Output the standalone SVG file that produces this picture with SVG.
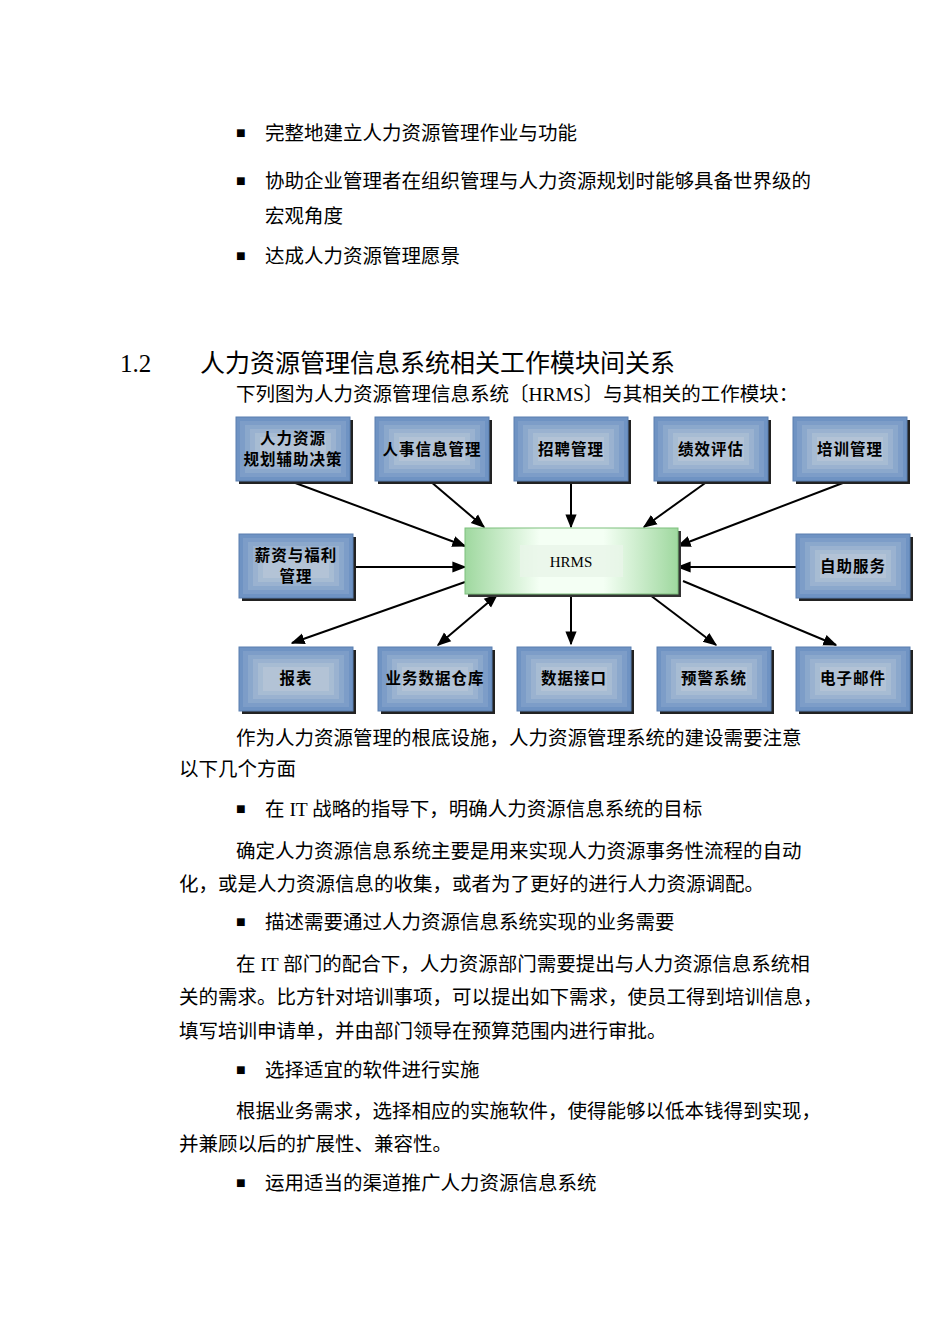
<svg xmlns="http://www.w3.org/2000/svg" width="950" height="1344" viewBox="0 0 950 1344">
<style>
.t{font-family:"Liberation Serif","Noto Sans CJK SC",serif;font-size:19.5px;fill:#000}
.h{font-family:"Liberation Serif","Noto Sans CJK SC",serif;font-size:25px;fill:#000}
.b{font-family:"Noto Sans CJK SC",sans-serif;font-size:15.5px;font-weight:bold;letter-spacing:1px;fill:#000;text-anchor:middle}
.c{stroke:#000;stroke-width:2;fill:none}
</style>
<defs>
<marker id="a" viewBox="0 0 10 10" refX="9" refY="5" markerWidth="14" markerHeight="14" orient="auto-start-reverse" markerUnits="userSpaceOnUse"><path d="M0,1 L10,5 L0,9 z"/></marker>
<g id="box">
<rect x="3" y="3" width="114" height="64" fill="#222"/>
<rect x="0" y="0" width="114" height="64" fill="#6f93c3"/>
<rect x="4" y="4" width="106" height="56" fill="#7d9dc8"/>
<rect x="9" y="8" width="96" height="48" fill="#8ba8cc"/>
<rect x="14" y="12" width="86" height="40" fill="#9ab2d0"/>
<rect x="19" y="16" width="76" height="32" fill="#a7bcd3"/>
<rect x="24" y="20" width="66" height="24" fill="#b3c3d6"/>
<rect x="0" y="0" width="114" height="64" fill="none" stroke="#5a7fb0" stroke-width="1"/>
</g>
<linearGradient id="gh" x1="0" x2="1"><stop offset="0" stop-color="#9fd89f"/><stop offset="0.35" stop-color="#f4fff4"/><stop offset="0.65" stop-color="#f4fff4"/><stop offset="1" stop-color="#9fd89f"/></linearGradient>
</defs>
<g class="t">
<text x="236" y="138" font-size="16">■</text><text x="265" y="140">完整地建立人力资源管理作业与功能</text>
<text x="236" y="186" font-size="16">■</text><text x="265" y="188">协助企业管理者在组织管理与人力资源规划时能够具备世界级的</text>
<text x="265" y="223">宏观角度</text>
<text x="236" y="261" font-size="16">■</text><text x="265" y="263">达成人力资源管理愿景</text>
</g>
<text class="h" x="120" y="372">1.2</text><text class="h" x="200" y="372">人力资源管理信息系统相关工作模块间关系</text>
<text class="t" x="236" y="401">下列图为人力资源管理信息系统〔HRMS〕与其相关的工作模块：</text>
<g id="connectors" marker-end="url(#a)">
<line class="c" x1="290" y1="481" x2="465" y2="546"/>
<line class="c" x1="430" y1="481" x2="484" y2="527"/>
<line class="c" x1="571" y1="481" x2="571" y2="527"/>
<line class="c" x1="708" y1="481" x2="644" y2="527"/>
<line class="c" x1="848" y1="481" x2="678" y2="546"/>
<line class="c" x1="353" y1="567" x2="465" y2="567"/>
<line class="c" x1="796" y1="567" x2="678" y2="567"/>
<line class="c" x1="465" y1="582" x2="292" y2="643"/>
<line class="c" x1="497" y1="595" x2="438" y2="645" marker-start="url(#a)"/>
<line class="c" x1="571" y1="595" x2="571" y2="644"/>
<line class="c" x1="650" y1="595" x2="716" y2="645"/>
<line class="c" x1="683" y1="581" x2="836" y2="645"/>
</g>
<g id="hrms">
<rect x="468" y="531" width="213" height="66" fill="#333"/>
<rect x="465" y="528" width="213" height="66" fill="url(#gh)" stroke="#7cbf7c"/>
<rect x="520" y="545" width="103" height="32" fill="#e8f5e8" opacity="0.8"/>
<text x="571" y="567" font-family="Liberation Serif,serif" font-size="15" text-anchor="middle">HRMS</text>
</g>
<g id="n1"><use href="#box" x="236" y="417"/><text class="b" x="293" y="444">人力资源</text><text class="b" x="293" y="465">规划辅助决策</text></g>
<g id="n2"><use href="#box" x="375" y="417"/><text class="b" x="432" y="455">人事信息管理</text></g>
<g id="n3"><use href="#box" x="514" y="417"/><text class="b" x="571" y="455">招聘管理</text></g>
<g id="n4"><use href="#box" x="654" y="417"/><text class="b" x="711" y="455">绩效评估</text></g>
<g id="n5"><use href="#box" x="793" y="417"/><text class="b" x="850" y="455">培训管理</text></g>
<g id="n6"><use href="#box" x="239" y="534"/><text class="b" x="296" y="561">薪资与福利</text><text class="b" x="296" y="582">管理</text></g>
<g id="n7"><use href="#box" x="796" y="534"/><text class="b" x="853" y="572">自助服务</text></g>
<g id="n8"><use href="#box" x="239" y="647"/><text class="b" x="296" y="684">报表</text></g>
<g id="n9"><use href="#box" x="378" y="647"/><text class="b" x="435" y="684">业务数据仓库</text></g>
<g id="n10"><use href="#box" x="517" y="647"/><text class="b" x="574" y="684">数据接口</text></g>
<g id="n11"><use href="#box" x="657" y="647"/><text class="b" x="714" y="684">预警系统</text></g>
<g id="n12"><use href="#box" x="796" y="647"/><text class="b" x="853" y="684">电子邮件</text></g>
<g class="t">
<text x="236" y="745">作为人力资源管理的根底设施，人力资源管理系统的建设需要注意</text>
<text x="179" y="776">以下几个方面</text>
<text x="236" y="814" font-size="16">■</text><text x="265" y="816">在 IT 战略的指导下，明确人力资源信息系统的目标</text>
<text x="236" y="858">确定人力资源信息系统主要是用来实现人力资源事务性流程的自动</text>
<text x="179" y="891">化，或是人力资源信息的收集，或者为了更好的进行人力资源调配。</text>
<text x="236" y="927" font-size="16">■</text><text x="265" y="929">描述需要通过人力资源信息系统实现的业务需要</text>
<text x="236" y="971">在 IT 部门的配合下，人力资源部门需要提出与人力资源信息系统相</text>
<text x="179" y="1004">关的需求。比方针对培训事项，可以提出如下需求，使员工得到培训信息，</text>
<text x="179" y="1038">填写培训申请单，并由部门领导在预算范围内进行审批。</text>
<text x="236" y="1075" font-size="16">■</text><text x="265" y="1077">选择适宜的软件进行实施</text>
<text x="236" y="1118">根据业务需求，选择相应的实施软件，使得能够以低本钱得到实现，</text>
<text x="179" y="1151">并兼顾以后的扩展性、兼容性。</text>
<text x="236" y="1188" font-size="16">■</text><text x="265" y="1190">运用适当的渠道推广人力资源信息系统</text>
</g>
</svg>
